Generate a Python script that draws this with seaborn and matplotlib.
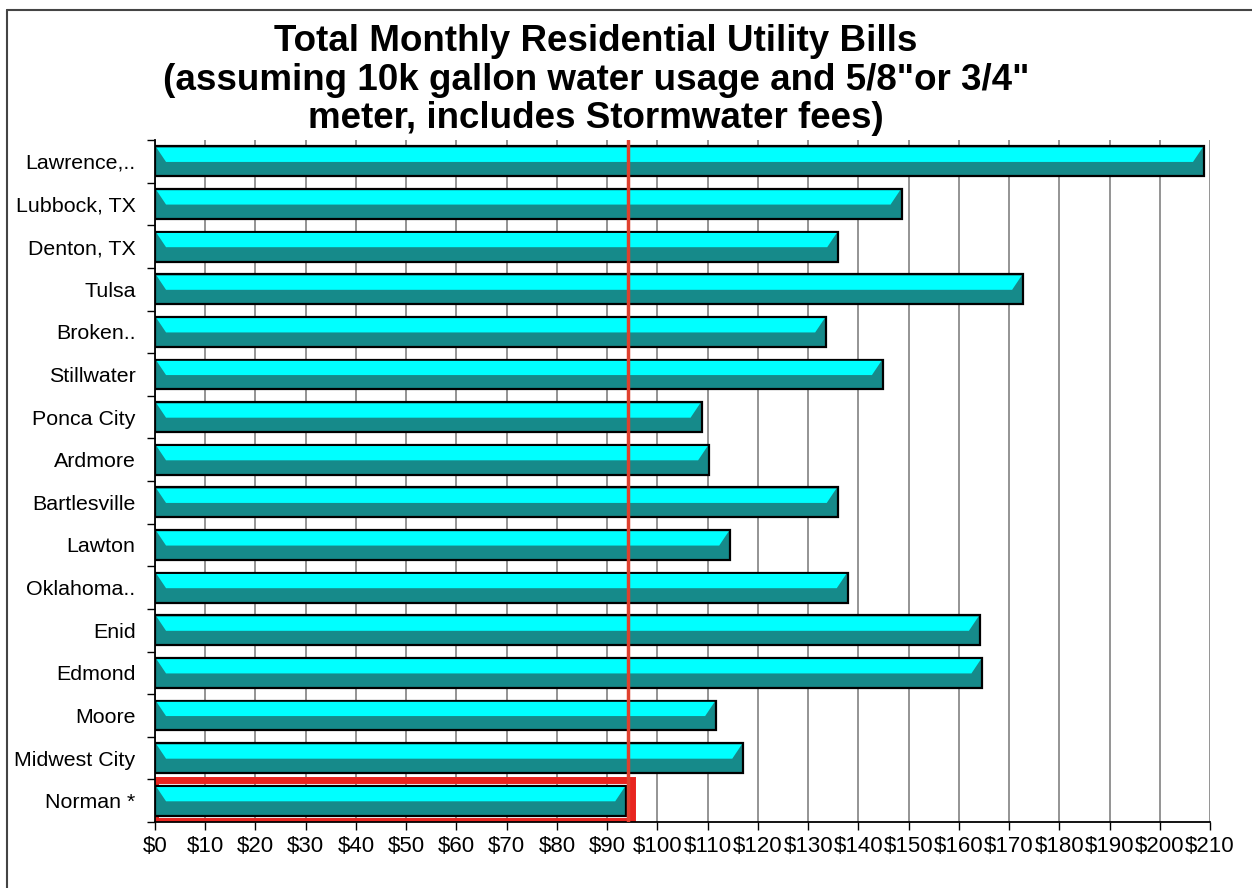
import numpy as np
import pandas as pd
import seaborn as sns
import matplotlib.pyplot as plt
from matplotlib.patches import Polygon, Rectangle
from matplotlib.lines import Line2D

# data (monthly bill, dollars)
cities = ['Lawrence,..', 'Lubbock, TX', 'Denton, TX', 'Tulsa', 'Broken..',
          'Stillwater', 'Ponca City', 'Ardmore', 'Bartlesville', 'Lawton',
          'Oklahoma..', 'Enid', 'Edmond', 'Moore', 'Midwest City', 'Norman *']
bills = [208.8, 148.6, 136.0, 172.8, 133.6, 144.9, 108.8, 110.3, 135.9,
         114.5, 137.9, 164.2, 164.7, 111.7, 117.1, 93.8]
x_ticks = list(range(0, 211, 10))
x_labels = [f'${v}' for v in x_ticks]
title = ('Total Monthly Residential Utility Bills\n'
         '(assuming 10k gallon water usage and 5/8"or 3/4"\n'
         'meter, includes Stormwater fees)')

df = pd.DataFrame({'city': cities, 'bill': bills})

sns.set_style("white")
plt.rcParams['font.family'] = ['Liberation Sans', 'DejaVu Sans']
plt.rcParams['text.color'] = 'black'
plt.rcParams['xtick.color'] = 'black'
plt.rcParams['ytick.color'] = 'black'

fig = plt.figure(figsize=(12.52, 8.88), dpi=100)
ax = fig.add_axes([0.1238, 0.0743, 0.8427, 0.768])

bar_h = 0.7
sns.barplot(data=df, x='bill', y='city', orient='h', color='#168a8a',
            saturation=1, width=bar_h, edgecolor='black', linewidth=1.6,
            ax=ax, zorder=3)

# cyan upper half with small bevels at the ends
for p in ax.patches[:len(cities)]:
    w = p.get_width()
    top = p.get_y()
    mid = top + p.get_height() * 0.52
    d = 2.2
    ax.add_patch(Polygon([(0.3, top + 0.03), (w - 0.3, top + 0.03), (w - d, mid),
                          (d, mid)], closed=True, facecolor='#00ffff',
                         edgecolor='none', zorder=4))

# highlight box round Norman
norman_idx = len(cities) - 1
ax.add_patch(Rectangle((0, norman_idx - 0.5 + 0.02), bills[-1] + 1.2, 0.96,
                       facecolor='none', edgecolor='#e8241e', linewidth=5,
                       zorder=2.5))

# reference line at Norman's bill
ax.axvline(bills[-1] + 0.4, color='#e0402e', linewidth=2.5, zorder=6)

ax.set_xlim(0, 210)
ax.set_ylim(len(cities) - 0.5, -0.5)
ax.set_xticks(x_ticks)
ax.set_xticklabels(x_labels, fontsize=16)
ax.set_yticks(np.arange(-0.5, len(cities), 1.0), minor=True)
ax.tick_params(axis='y', which='major', length=0, pad=14, labelsize=15.4)
ax.tick_params(axis='y', which='minor', length=6, width=1, color='black', left=True)
ax.tick_params(axis='x', which='major', length=6, width=1, color='black',
               bottom=True, pad=4)
ax.grid(axis='x', color='#777777', linewidth=1.1, zorder=0)
ax.set_axisbelow(True)
ax.set_xlabel('')
ax.set_ylabel('')
for s in ['top', 'right']:
    ax.spines[s].set_visible(False)
for s in ['left', 'bottom']:
    ax.spines[s].set_color('black')
    ax.spines[s].set_linewidth(1.3)

fig.text(596 / 1252, 1 - 80 / 888, title, ha='center', va='center',
         fontsize=26.5, fontweight='bold', linespacing=1.12, color='black')

# outer frame (left and top edges)
fig.add_artist(Line2D([7 / 1252, 7 / 1252], [0, 1 - 10 / 888], color='#444444', lw=1.5))
fig.add_artist(Line2D([7 / 1252, 1], [1 - 10 / 888, 1 - 10 / 888], color='#444444', lw=1.5))

fig.savefig('out.png', dpi=100)
